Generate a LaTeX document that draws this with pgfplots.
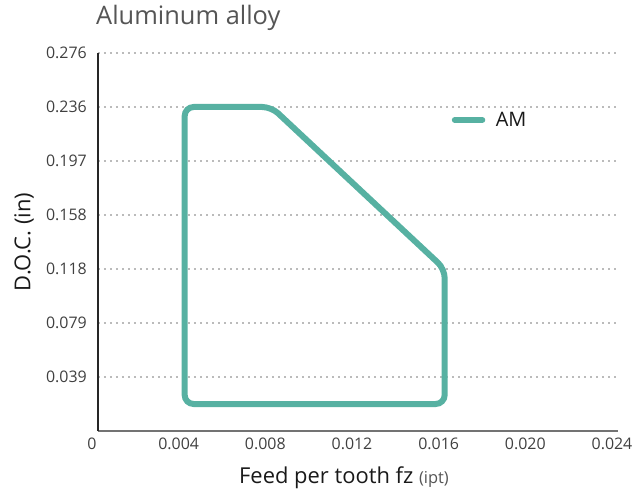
\documentclass[border=0pt]{standalone}
\usepackage{fontspec}
\setmainfont{Open Sans}
\usepackage{pgfplots}
\pgfplotsset{compat=1.18}
\definecolor{am}{HTML}{57B1A2}
\definecolor{ticktxt}{HTML}{404040}
\definecolor{titletxt}{HTML}{555555}
\definecolor{gridc}{HTML}{BBBBBB}
\begin{document}
\begin{tikzpicture}
\begin{axis}[
  scale only axis, width=520bp, height=378bp,
  at={(0,0)}, anchor=south west,
  xmin=0, xmax=0.6, ymin=0, ymax=7,
  xtick={0,0.1,0.2,0.3,0.4,0.5,0.6},
  xticklabels={0,0.004,0.008,0.012,0.016,0.020,0.024},
  ytick={1,2,3,4,5,6,7},
  yticklabels={0.039,0.079,0.118,0.158,0.197,0.236,0.276},
  major tick length=0pt,
  axis lines*=left,
  x axis line style={draw=black!55, line width=1.4bp},
  y axis line style={draw=black!85, line width=1.3bp},
  ymajorgrids,
  major grid style={draw=gridc, line width=1.8bp, dash pattern=on 1.8bp off 4.2bp},
  /pgf/number format/assume math mode=true,
  ticklabel style={font=\fontsize{16}{16}\selectfont, text=ticktxt, inner sep=0pt},
  yticklabel style={anchor=east, xshift=-11bp},
  xticklabel style={anchor=north, yshift=-7bp, xshift=-6bp},
  title={Aluminum alloy},
  title style={at={(0,1)}, anchor=base west, xshift=-2bp, yshift=23bp, inner sep=0pt,
    font=\fontsize{25.5}{25.5}\selectfont, text=titletxt},
  xlabel={Feed per tooth fz {\fontsize{16.5}{16.5}\selectfont\color{titletxt}(ipt)}},
  xlabel style={at={(axis description cs:0.5,0)}, anchor=base, yshift=-52bp, xshift=-14bp,
    inner sep=0pt, font=\fontsize{22}{22}\selectfont, text=black!90},
  ylabel={D.O.C. (in)},
  ylabel style={at={(axis description cs:-0.1300,0.5)}, anchor=base,
    inner sep=0pt, font=\fontsize{22}{22}\selectfont, text=black!90},
  legend style={at={(0.680,0.823)}, anchor=west, draw=none, fill=none, inner sep=0pt,
    nodes={inner sep=0pt}, font=\fontsize{20}{20}\selectfont, text=black!90},
  legend image code/.code={\draw[#1, line cap=round] (0bp,0bp) -- (27.5bp,0bp); \path (38bp,0bp);},
  clip=false,
]
\addplot[am, line width=6bp, rounded corners=9bp, line cap=round] coordinates {
  (0.25,0.5) (0.4,0.5) (0.4,3) (0.2,6) (0.1,6) (0.1,0.5) (0.25,0.5)
};
\addlegendentry{AM}
\end{axis}
\pgfresetboundingbox
\path[use as bounding box] (-98bp,-60bp) rectangle (542bp,431bp);
\end{tikzpicture}
\end{document}
